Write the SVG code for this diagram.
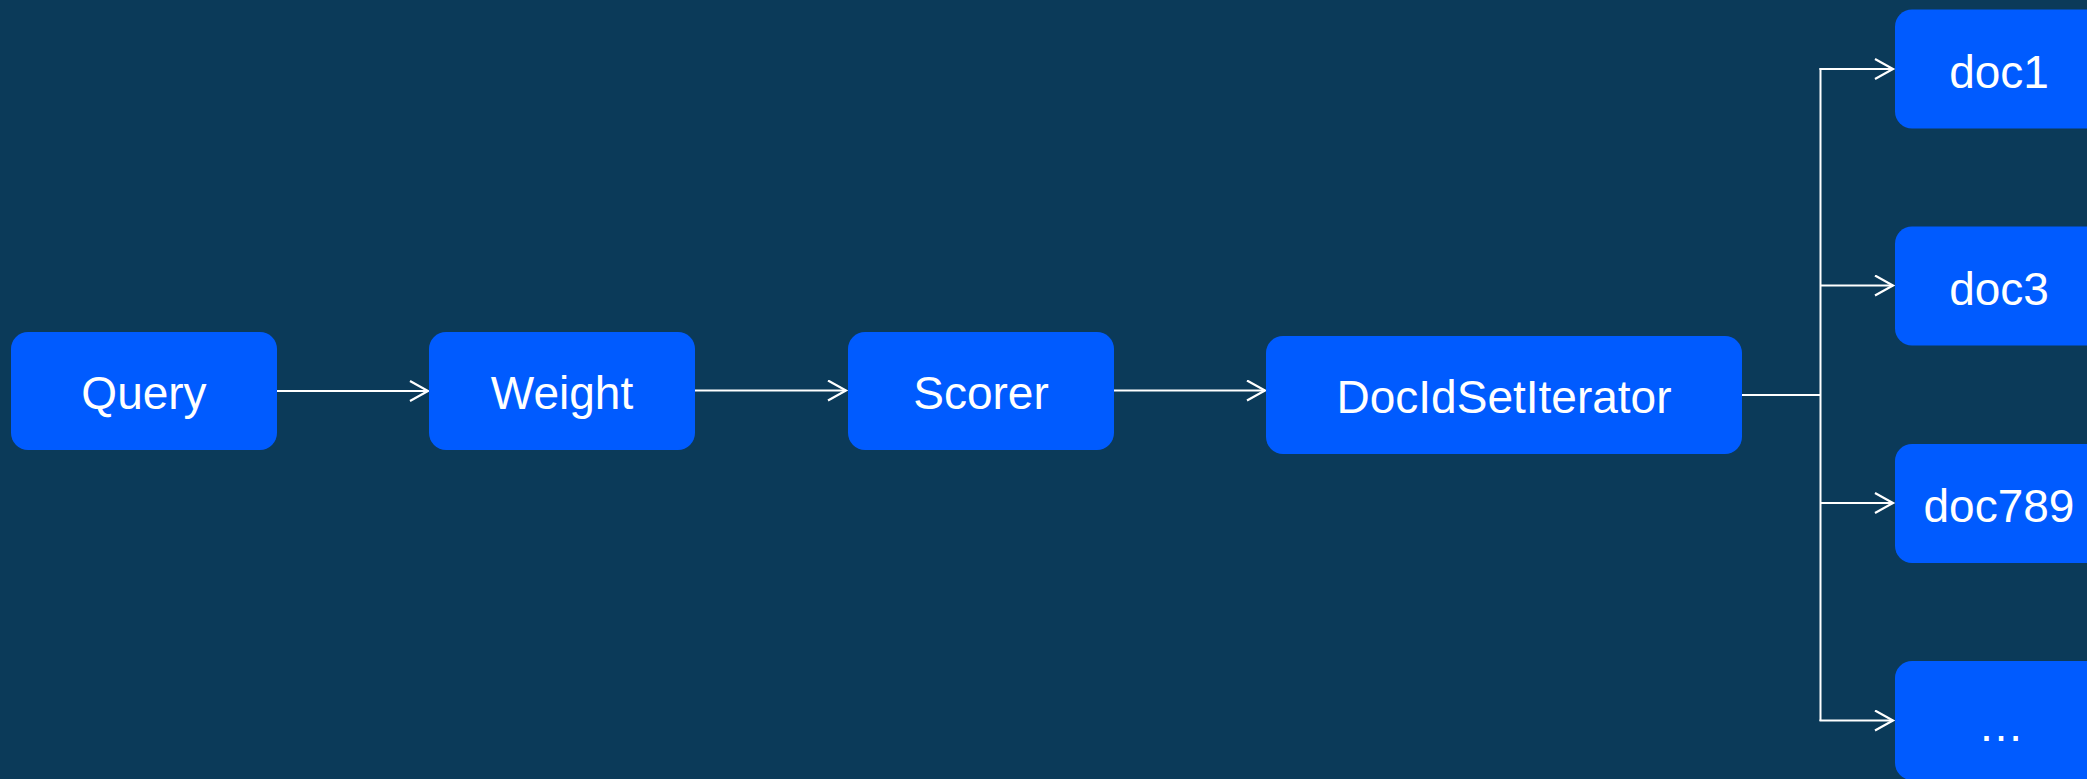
<svg xmlns="http://www.w3.org/2000/svg" width="2087" height="779" viewBox="0 0 2087 779">
  <style>
    .box { fill: #005BFF; }
    .lbl { fill: #FFFFFF; font-family: "Liberation Sans", Arial, sans-serif; font-size: 46px; text-anchor: middle; }
    .edge { fill: none; stroke: #FFFFFF; stroke-width: 2; }
  </style>
  <defs>
    <marker id="open-arrow" markerWidth="22" markerHeight="24" refX="19" refY="11" orient="auto" markerUnits="userSpaceOnUse">
      <path d="M1,1 L19,11 L1,21" fill="none" stroke="#FFFFFF" stroke-width="2.2"/>
    </marker>
  </defs>
  <rect width="2087" height="779" fill="#0B3A59"/>

  <g id="connectors">
    <line class="edge" x1="277" y1="391" x2="428" y2="391" marker-end="url(#open-arrow)"/>
    <line class="edge" x1="695" y1="390.5" x2="846" y2="390.5" marker-end="url(#open-arrow)"/>
    <line class="edge" x1="1114" y1="390.5" x2="1265" y2="390.5" marker-end="url(#open-arrow)"/>
    <polyline class="edge" points="1742,395 1820.5,395"/>
    <line class="edge" x1="1820.5" y1="68" x2="1820.5" y2="721"/>
    <line class="edge" x1="1819.5" y1="69" x2="1893" y2="69" marker-end="url(#open-arrow)"/>
    <line class="edge" x1="1820.5" y1="285.5" x2="1893" y2="285.5" marker-end="url(#open-arrow)"/>
    <line class="edge" x1="1820.5" y1="503" x2="1893" y2="503" marker-end="url(#open-arrow)"/>
    <line class="edge" x1="1819.5" y1="720.5" x2="1893" y2="720.5" marker-end="url(#open-arrow)"/>
  </g>

  <g id="query">
    <rect class="box" x="11" y="332" width="266" height="118" rx="17"/>
    <text class="lbl" x="144" y="409">Query</text>
  </g>
  <g id="weight">
    <rect class="box" x="429" y="332" width="266" height="118" rx="17"/>
    <text class="lbl" x="562" y="409">Weight</text>
  </g>
  <g id="scorer">
    <rect class="box" x="848" y="332" width="266" height="118" rx="17"/>
    <text class="lbl" x="981" y="409">Scorer</text>
  </g>
  <g id="docidsetiterator">
    <rect class="box" x="1266" y="336" width="476" height="118" rx="17"/>
    <text class="lbl" x="1504" y="413">DocIdSetIterator</text>
  </g>
  <g id="doc1">
    <rect class="box" x="1895" y="9.5" width="210" height="119" rx="17"/>
    <text class="lbl" x="1999" y="88">doc1</text>
  </g>
  <g id="doc3">
    <rect class="box" x="1895" y="226.5" width="210" height="119" rx="17"/>
    <text class="lbl" x="1999" y="305">doc3</text>
  </g>
  <g id="doc789">
    <rect class="box" x="1895" y="444" width="210" height="119" rx="17"/>
    <text class="lbl" x="1999" y="522">doc789</text>
  </g>
  <g id="more">
    <rect class="box" x="1895" y="661" width="210" height="119" rx="17"/>
    <text class="lbl" x="2001" y="741">…</text>
  </g>
</svg>
